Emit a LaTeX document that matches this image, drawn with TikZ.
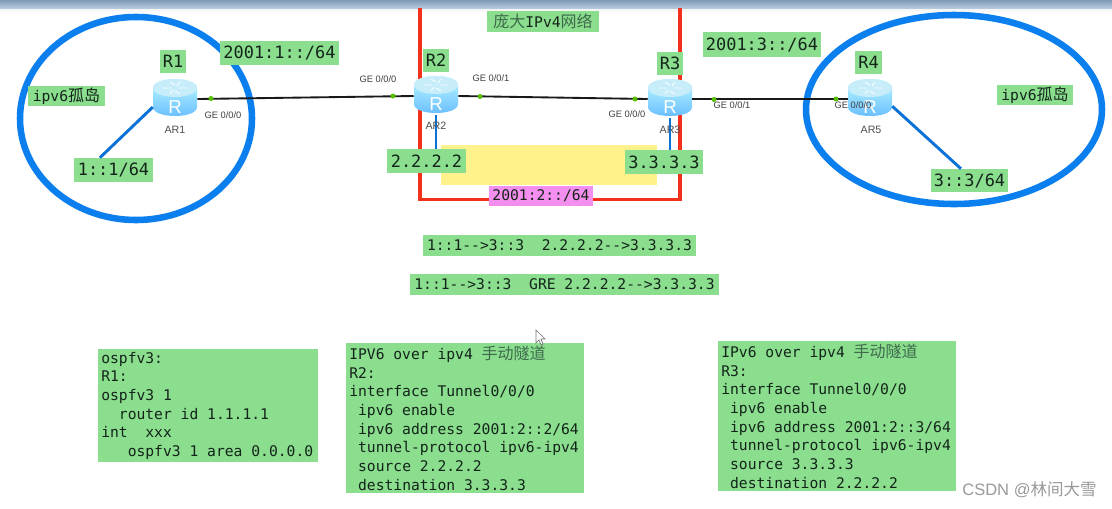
\documentclass[tikz,border=0pt]{standalone}
\usepackage{fontspec}
\setmainfont{Liberation Sans}
\setmonofont[WordSpace={1,0,0}]{DejaVu Sans Mono}
\newfontfamily\cjk{Noto Sans CJK SC}
\usetikzlibrary{shapes.geometric}
\lineskiplimit=-20pt
\newcommand{\onech}{\hphantom{x}}
\newcommand{\monospaces}{\spaceskip=0.602em\relax\xspaceskip=0.602em\relax}
\definecolor{lab}{HTML}{8ADE8E}
\definecolor{pinkl}{HTML}{F48FEF}
\definecolor{yel}{HTML}{FFF28C}
\definecolor{ring}{HTML}{0B7FEE}
\definecolor{redb}{HTML}{F2301C}
\definecolor{ink}{HTML}{14241A}
\definecolor{cjkink}{HTML}{3F6B4C}
\definecolor{barA}{HTML}{7E9AB8}
\definecolor{barB}{HTML}{B5C9DC}
\tikzset{
  x=0.75pt,y=-0.75pt,
  tag/.style={fill=lab,inner sep=0pt,text=ink,font=\ttfamily\fontsize{11}{13}\selectfont},
  bigtag/.style={tag,font=\ttfamily\fontsize{12.7}{15}\selectfont},
  cfg/.style={fill=lab,anchor=north west,inner xsep=2.25pt,inner ysep=0pt,align=left,text=ink,
    font=\ttfamily\fontsize{11}{14}\selectfont},
  port/.style={font=\fontsize{7}{8}\selectfont,text=black!75,inner sep=0pt},
  arname/.style={font=\fontsize{8}{9}\selectfont,text=black!70,inner sep=0pt},
  pdot/.style={circle,fill=green!55!yellow!75!black,inner sep=0pt,minimum size=3.75pt},
  island/.style={draw=ring,line width=4.9pt},
  wire/.style={draw=black!90,line width=1.4pt},
  bluelink/.style={draw=ring!90!black,line width=2.2pt},
  routerbox/.style={inner sep=0pt,minimum width=33pt,minimum height=27.75pt},
}
\newcommand{\routericon}[3]{%
  \begin{scope}[shift={(#2,#3)}]
    \shade[top color=cyan!25!white,bottom color=cyan!55!blue!60!white]
      (-22,-11) -- (-22,8) .. controls (-22,20) and (22,20) .. (22,8) -- (22,-11)
      .. controls (22,-23) and (-22,-23) .. (-22,-11) -- cycle;
    \fill[cyan!22!white] (0,-11) ellipse (22 and 9);
    \draw[white,line width=0.7pt,opacity=.9] (-12,-11) -- (-4,-11) (4,-11) -- (12,-11)
      (-5,-17) -- (0,-14) (5,-5) -- (0,-8) (5,-17) -- (2,-13) (-5,-5) -- (-2,-9);
    \node[routerbox] (#1) at (0,0) {};
    \node[inner sep=0pt,text=white,font=\fontsize{14}{14}\selectfont] (#1r) at (0,8) {R};
  \end{scope}}
\begin{document}
\begin{tikzpicture}
\useasboundingbox (0,0) rectangle (1112,508);
\fill[white] (0,0) rectangle (1112,508);
\shade[top color=black!5,bottom color=white] (0,8) rectangle (1112,14);
\shade[top color=barA,bottom color=barB] (0,0) rectangle (1112,8);
% IPv4 cloud
\draw[redb,line width=2.4pt,line cap=butt] (420,8) -- (420,199.5) -- (680,199.5) -- (680,8);
\fill[yel] (441,145) rectangle (657,185);
% islands
\draw[island] (136,118.5) ellipse (116 and 101.5);
\draw[island] (954,109.5) ellipse (148 and 94.5);
% routers
\routericon{ar1}{175}{99}
\routericon{ar2}{436}{96}
\routericon{ar3}{670}{99}
\routericon{ar4}{870}{99}
% address tags
\node[bigtag,minimum width=19.5pt,minimum height=17.25pt] (r1) at (173,61.5) {R1};
\node[bigtag,minimum width=89.25pt,minimum height=18pt] (net1) at (279.5,53) {2001:1::/64};
\node[tag,minimum width=57.75pt,minimum height=15pt] (isl1) at (66.5,96) {ipv6{\cjk\fontsize{12}{13}\selectfont 孤岛}};
\node[bigtag,minimum width=59.25pt,minimum height=18pt] (a1) at (113.5,170) {1::1/64};
\node[tag,minimum width=84pt,minimum height=15.75pt] (big) at (543,21.5) {{\cjk\fontsize{12}{13}\selectfont\color{cjkink}庞大}IPv4{\cjk\fontsize{12}{13}\selectfont\color{cjkink}网络}};
\node[bigtag,minimum width=19.5pt,minimum height=17.25pt] (r2) at (436,60.5) {R2};
\node[bigtag,minimum width=19.5pt,minimum height=17.25pt] (r3) at (670,63.5) {R3};
\node[bigtag,minimum width=88.5pt,minimum height=18.75pt] (net3) at (762,44.5) {2001:3::/64};
\node[bigtag,minimum width=20.25pt,minimum height=17.25pt] (r4) at (868.5,62.5) {R4};
\node[tag,minimum width=57pt,minimum height=15pt] (isl2) at (1035,95) {ipv6{\cjk\fontsize{12}{13}\selectfont 孤岛}};
\node[bigtag,minimum width=57.75pt,minimum height=17.25pt] (a3) at (969.5,180.5) {3::3/64};
\node[bigtag,minimum width=59.25pt,minimum height=18pt] (lo2) at (426.5,161) {2.2.2.2};
\node[bigtag,minimum width=58.5pt,minimum height=18pt] (lo3) at (664,162) {3.3.3.3};
\node[tag,fill=pinkl,minimum width=78pt,minimum height=15pt] (net2) at (541,196) {2001:2::/64};
\node[tag,minimum width=204.75pt,minimum height=15.75pt] (flow1) at (559.5,245.5) {1::1-{}->3::3\hphantom{xx}2.2.2.2-{}->3.3.3.3};
\node[tag,minimum width=231.75pt,minimum height=15.75pt] (flow2) at (564.5,284.5) {1::1-{}->3::3\hphantom{xx}GRE 2.2.2.2-{}->3.3.3.3};
% links
\draw[wire] (ar1.east) -- (ar2.west);
\draw[wire] (ar2.east) -- (ar3.west);
\draw[wire] (ar3.east) -- (ar4.west);
\draw[bluelink] (ar1.200) -- (a1.138);
\draw[bluelink] (ar2.south) -- (lo2.north -| ar2.south);
\draw[bluelink] (ar3.south) -- (lo3.north -| ar3.south);
\draw[bluelink] (ar4.-18) -- (a3.126);
% port dots
\node[pdot] (d1) at (211,98.5) {};
\node[pdot] (d2) at (393,96) {};
\node[pdot] (d3) at (480,96.5) {};
\node[pdot] (d4) at (635,99) {};
\node[pdot] (d5) at (714,99.5) {};
\node[pdot] (d6) at (836,99) {};
% port labels
\node[port] (p1) at (223,115.5) {GE 0/0/0};
\node[port] (p2) at (378,79) {GE 0/0/0};
\node[port] (p3) at (491,78) {GE 0/0/1};
\node[port] (p4) at (627,114) {GE 0/0/0};
\node[port] (p5) at (732,105) {GE 0/0/1};
\node[port] (p6) at (853,105) {GE 0/0/0};
\node[arname] (n1) at (175,130) {AR1};
\node[arname] (n2) at (436,126) {AR2};
\node[arname] (n3) at (670,130) {AR3};
\node[arname] (n4) at (871,130) {AR5};
% config boxes
\node[cfg,text width=160.5pt,minimum height=84.75pt] (c1) at (98,349) {\monospaces ospfv3:\\R1:\\ospfv3 1\\\onech\onech router id 1.1.1.1\\int\onech\onech xxx\\\onech\onech\onech ospfv3 1 area 0.0.0.0};
\node[cfg,text width=174pt,minimum height=112.5pt] (c2) at (346,343) {\monospaces IPV6 over ipv4 {\cjk\fontsize{12}{14}\selectfont\color{cjkink}手动隧道}\\R2:\\interface Tunnel0/0/0\\\onech ipv6 enable\\\onech ipv6 address 2001:2::2/64\\\onech tunnel-protocol ipv6-ipv4\\\onech source 2.2.2.2\\\onech destination 3.3.3.3};
\node[cfg,text width=174pt,minimum height=112.5pt] (c3) at (718,341) {\monospaces IPv6 over ipv4 {\cjk\fontsize{12}{14}\selectfont\color{cjkink}手动隧道}\\R3:\\interface Tunnel0/0/0\\\onech ipv6 enable\\\onech ipv6 address 2001:2::3/64\\\onech tunnel-protocol ipv6-ipv4\\\onech source 3.3.3.3\\\onech destination 2.2.2.2};
% cursor
\filldraw[fill=white,draw=black!55,line width=0.5pt] (536,330) -- (536,343) -- (539,340) -- (541,345) -- (543,344) -- (541,339) -- (545,339) -- cycle;
% watermark
\node[inner sep=0pt,text=black!40,font=\fontsize{12.4}{14}\selectfont] (wm) at (1029.5,490) {CSDN @{\cjk 林间大雪}};
\end{tikzpicture}
\end{document}
